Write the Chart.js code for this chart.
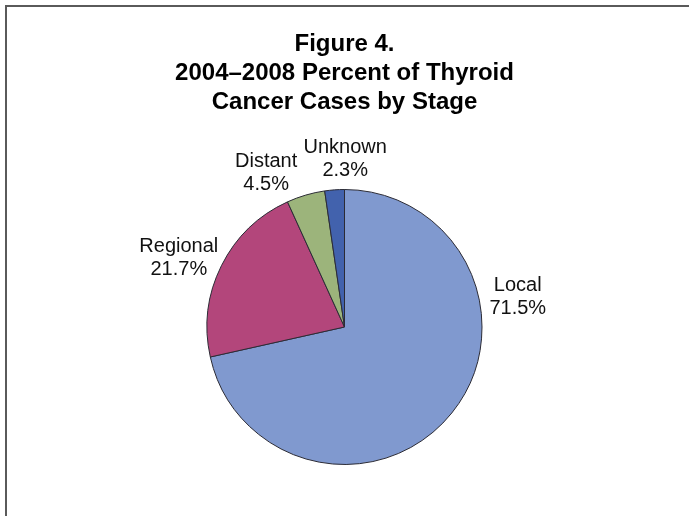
<!DOCTYPE html>
<html>
<head>
<meta charset="utf-8">
<script src="https://cdn.jsdelivr.net/npm/chart.js@4/dist/chart.umd.min.js"></script>
<style>
    html, body { margin: 0; padding: 0; background: #fff; }
    #wrap { position: relative; width: 689px; height: 516px; }
    #frame { position: absolute; left: 5px; top: 5px; right: -10px; bottom: -10px;
             border-left: 2px solid #5a5a5a; border-top: 2px solid #5a5a5a; }
    canvas { position: absolute; left: 0; top: 0; }
</style>
</head>
<body>
<div id="wrap">
    <canvas id="pieChart" width="689" height="516"></canvas>
    <div id="frame"></div>
</div>
<script>
const stages = ['Local', 'Regional', 'Distant', 'Unknown'];
const percents = [71.5, 21.7, 4.5, 2.3];
const sliceColors = ['#8099cf', '#b3467b', '#9cb47b', '#4262ad'];

// label anchor: offset from pie centre, in units of the radius
const labelSpots = [[1.26, -0.22], [-1.205, -0.5], [-0.57, -1.12], [0.005, -1.22]];

const outerLabels = {
    id: 'outerLabels',
    afterDatasetsDraw(chart) {
        const ctx = chart.ctx;
        const arcs = chart.getDatasetMeta(0).data;
        ctx.save();
        ctx.font = '20px "Liberation Sans", Arial, sans-serif';
        ctx.fillStyle = '#111';
        ctx.textAlign = 'center';
        ctx.textBaseline = 'middle';
        arcs.forEach((arc, i) => {
            const r = arc.outerRadius;
            const x = arc.x + labelSpots[i][0] * r;
            const y = arc.y + labelSpots[i][1] * r;
            ctx.fillText(stages[i], x, y - 11.5);
            ctx.fillText(percents[i].toFixed(1) + '%', x, y + 11.5);
        });
        ctx.restore();
    }
};

new Chart(document.getElementById('pieChart').getContext('2d'), {
    type: 'pie',
    data: {
        labels: stages,
        datasets: [{
            data: percents,
            backgroundColor: sliceColors,
            borderColor: '#2b2b35',
            borderWidth: 1
        }]
    },
    options: {
        responsive: false,
        animation: false,
        layout: { padding: { top: 0, bottom: 51, left: 0, right: 0 } },
        plugins: {
            legend: { display: false },
            tooltip: { enabled: false },
            title: {
                display: true,
                text: ['Figure 4.', '2004\u20132008 Percent of Thyroid', 'Cancer Cases by Stage'],
                color: '#000',
                font: { family: '"Liberation Sans", Arial, sans-serif', size: 24, weight: 'bold', lineHeight: 1.2 },
                padding: { top: 30, bottom: 72.6 }
            }
        }
    },
    plugins: [outerLabels]
});
</script>
</body>
</html>
